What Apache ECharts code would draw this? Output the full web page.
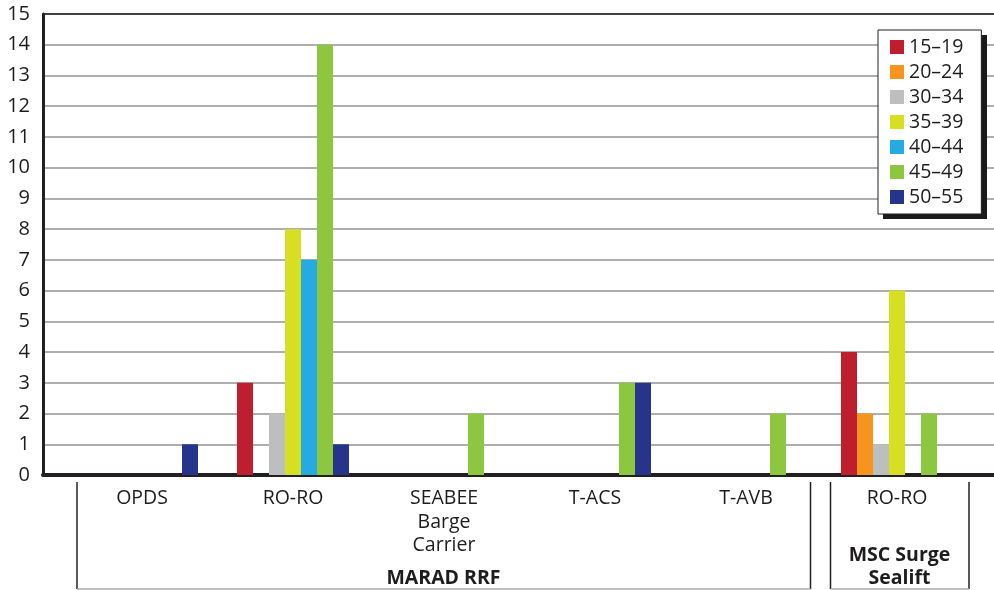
<!DOCTYPE html>
<html>
<head>
<meta charset="utf-8">
<script src="https://cdn.jsdelivr.net/npm/echarts@6/dist/echarts.min.js"></script>
<style>
  html, body { margin: 0; padding: 0; background: #fff; }
  #chart { width: 994px; height: 590px; }
</style>
</head>
<body>
<div id="chart"></div>
<script>
  // categories along x (two groups: MARAD RRF, MSC Surge Sealift)
  const categories = ['OPDS', 'RO-RO', 'SEABEE\nBarge\nCarrier', 'T-ACS', 'T-AVB', 'RO-RO'];
  const seriesNames = ['15–19', '20–24', '30–34', '35–39', '40–44', '45–49', '50–55'];
  const colors = ['#be1e2d', '#f7941d', '#bcbec0', '#d7df23', '#27aae1', '#8dc63f', '#27348b'];

  const age15_19 = [0, 3, 0, 0, 0, 4];
  const age20_24 = [0, 0, 0, 0, 0, 2];
  const age30_34 = [0, 2, 0, 0, 0, 1];
  const age35_39 = [0, 8, 0, 0, 0, 6];
  const age40_44 = [0, 7, 0, 0, 0, 0];
  const age45_49 = [0, 14, 2, 3, 2, 2];
  const age50_55 = [1, 1, 0, 3, 0, 0];
  const seriesData = [age15_19, age20_24, age30_34, age35_39, age40_44, age45_49, age50_55];

  const yTicks = [0, 15, 1]; // min, max, interval

  const font = '"Open Sans", "Noto Sans", sans-serif';
  const textColor = '#1f1c1d';

  const chart = echarts.init(document.getElementById('chart'));

  const series = seriesNames.map((name, i) => ({
    name: name,
    type: 'bar',
    xAxisIndex: 2,
    yAxisIndex: 1,
    barWidth: 16,
    barGap: '0%',
    itemStyle: { color: colors[i] },
    data: seriesData[i]
  }));

  const option = {
    animation: false,
    backgroundColor: '#fff',
    grid: [
      { left: 43, right: 0, top: 14, bottom: 115 },
      { left: 66.5, right: 21.5, top: 14, bottom: 115 }
    ],
    xAxis: [
      {
        gridIndex: 0, type: 'value', min: 0, max: 1, position: 'bottom',
        axisLine: { show: true, onZero: false, lineStyle: { color: '#231f20', width: 4 } },
        axisTick: { show: false }, axisLabel: { show: false }, splitLine: { show: false }
      },
      {
        gridIndex: 0, type: 'value', min: 0, max: 1, position: 'top',
        axisLine: { show: true, onZero: false, lineStyle: { color: '#231f20', width: 1.5 } },
        axisTick: { show: false }, axisLabel: { show: false }, splitLine: { show: false }
      },
      {
        gridIndex: 1, type: 'category', data: categories,
        axisLine: { show: false }, axisTick: { show: false },
        axisLabel: {
          margin: 12, fontFamily: font, fontSize: 19.5, lineHeight: 23.5, color: textColor,
          interval: 0, verticalAlign: 'top'
        }
      }
    ],
    yAxis: [
      {
        gridIndex: 0, type: 'value', min: yTicks[0], max: yTicks[1], interval: yTicks[2],
        axisLine: { show: true, lineStyle: { color: '#231f20', width: 3 } },
        axisTick: { show: false },
        axisLabel: { margin: 13, fontFamily: font, fontSize: 20, color: textColor },
        splitLine: { lineStyle: { color: '#939393', width: 1.5 } }
      },
      {
        gridIndex: 1, type: 'value', min: yTicks[0], max: yTicks[1], interval: yTicks[2],
        show: false, splitLine: { show: false }
      }
    ],
    legend: {
      orient: 'vertical',
      left: 878, top: 30,
      padding: [7, 18, 7, 12],
      itemWidth: 14, itemHeight: 14, itemGap: 5,
      icon: 'rect',
      backgroundColor: '#fff',
      borderColor: '#231f20', borderWidth: 1,
      textStyle: { fontFamily: font, fontSize: 19.5, color: textColor },
      data: seriesNames,
      z: 10
    },
    graphic: [
      // legend drop shadow
      { type: 'rect', z: 5, shape: { x: 883, y: 35, width: 104, height: 184 }, style: { fill: '#1a1a1a' } },
      { type: 'line', shape: { x1: 77, y1: 482, x2: 77, y2: 589 }, style: { stroke: '#231f20', lineWidth: 1.5 } },
      { type: 'line', shape: { x1: 810.5, y1: 482, x2: 810.5, y2: 589 }, style: { stroke: '#231f20', lineWidth: 1.5 } },
      { type: 'line', shape: { x1: 77, y1: 589, x2: 810.5, y2: 589 }, style: { stroke: '#aaa', lineWidth: 1.5 } },
      { type: 'line', shape: { x1: 830.5, y1: 482, x2: 830.5, y2: 589 }, style: { stroke: '#231f20', lineWidth: 1.5 } },
      { type: 'line', shape: { x1: 969, y1: 482, x2: 969, y2: 589 }, style: { stroke: '#231f20', lineWidth: 1.5 } },
      { type: 'line', shape: { x1: 830.5, y1: 589, x2: 969, y2: 589 }, style: { stroke: '#aaa', lineWidth: 1.5 } },
      {
        type: 'text', x: 443.5, y: 578,
        style: { text: 'MARAD RRF', font: 'bold 19.5px ' + font, fill: textColor, textAlign: 'center', textVerticalAlign: 'middle' }
      },
      {
        type: 'text', x: 899.5, y: 566.5,
        style: { text: 'MSC Surge\nSealift', font: 'bold 19.5px ' + font, lineHeight: 23, fill: textColor, textAlign: 'center', textVerticalAlign: 'middle' }
      }
    ],
    series: series
  };

  chart.setOption(option);
</script>
</body>
</html>
